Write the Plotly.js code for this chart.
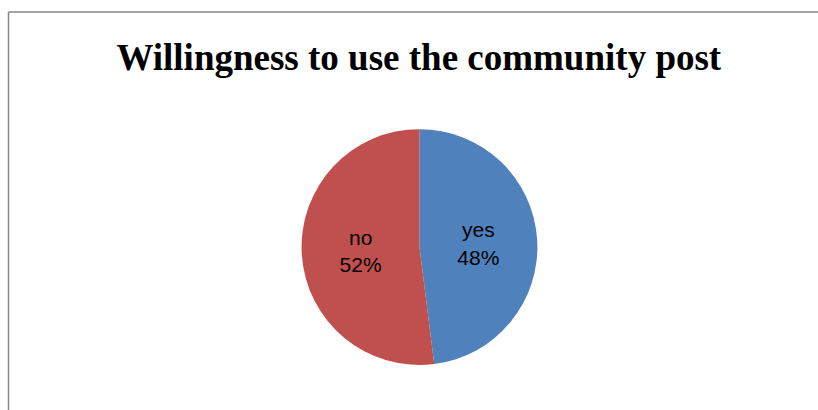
<!DOCTYPE html>
<html>
<head>
<meta charset="utf-8">
<script src="https://cdn.plot.ly/plotly-3.0.1.min.js"></script>
<style>
  html, body { margin: 0; padding: 0; background: #ffffff; }
  #chart { width: 818px; height: 410px; }
</style>
</head>
<body>
<div id="chart"></div>
<script>
const chartTitle = "Willingness to use the community post";
const categories = ["yes", "no"];
const shares = [48, 52];
const sliceColors = ["#4F81BD", "#C0504D"];

const trace = {
  type: "pie",
  labels: categories,
  values: shares,
  sort: false,
  direction: "clockwise",
  rotation: 0,
  marker: { colors: sliceColors, line: { color: "#ffffff", width: 0 } },
  textinfo: "label+percent",
  texttemplate: "%{label}<br>%{percent:.0%}",
  textposition: "inside",
  insidetextorientation: "horizontal",
  textfont: { family: "Liberation Sans, Arial, sans-serif", size: 21, color: "#000000" },
  hoverinfo: "none",
  showlegend: false,
  domain: { x: [0.3686, 0.657], y: [0.1098, 0.685] }
};

const layout = {
  width: 818,
  height: 410,
  margin: { l: 0, r: 0, t: 0, b: 0 },
  paper_bgcolor: "#ffffff",
  plot_bgcolor: "#ffffff",
  showlegend: false,
  uniformtext: { mode: "show", minsize: 21 },
  title: {
    text: "<b>" + chartTitle + "</b>",
    font: { family: "Liberation Serif, Times New Roman, serif", size: 37, color: "#000000" },
    x: 0.512, xanchor: "center",
    y: 0.862, yanchor: "middle",
    xref: "paper", yref: "paper"
  },
  shapes: [
    { type: "line", xref: "paper", yref: "paper", x0: 8.5/818, x1: 1, y0: 1 - 12/410, y1: 1 - 12/410, line: { color: "#868686", width: 1.5 } },
    { type: "line", xref: "paper", yref: "paper", x0: 8.5/818, x1: 8.5/818, y0: 1 - 12/410, y1: 0, line: { color: "#868686", width: 1.5 } }
  ]
};

Plotly.newPlot("chart", [trace], layout, { displayModeBar: false, staticPlot: true });
</script>
</body>
</html>
